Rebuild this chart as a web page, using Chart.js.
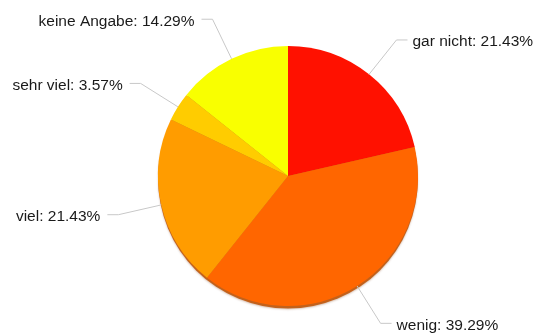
<!DOCTYPE html>
<html>
<head>
<meta charset="utf-8">
<script src="https://cdn.jsdelivr.net/npm/chart.js@4/dist/chart.umd.min.js"></script>
<style>
  html, body { margin: 0; padding: 0; background: #fff; }
  #wrap { width: 539px; height: 334px; }
</style>
</head>
<body>
<div id="wrap"><canvas id="myChart" width="539" height="334"></canvas></div>
<script>
var categories = ['gar nicht', 'wenig', 'viel', 'sehr viel', 'keine Angabe'];
var counts = [6, 11, 6, 1, 4];
var percentLabels = ['21.43%', '39.29%', '21.43%', '3.57%', '14.29%'];
var sliceColors = ['#ff1100', '#ff6600', '#ff9c00', '#ffcc00', '#f9ff00'];

// dark edge under the whole pie, drawn once before the slices
var shadowPlugin = {
    id: 'pieShadow',
    beforeDatasetsDraw: function(chart) {
        var arc = chart.getDatasetMeta(0).data[0];
        if (!arc) return;
        var ctx = chart.ctx;
        ctx.save();
        ctx.fillStyle = 'rgba(190, 80, 0, 0.85)';
        ctx.shadowColor = 'rgba(120, 50, 0, 0.35)';
        ctx.shadowBlur = 2;
        ctx.shadowOffsetY = 1;
        ctx.beginPath();
        ctx.arc(arc.x, arc.y + 2.5, arc.outerRadius, 0, Math.PI * 2);
        ctx.fill();
        ctx.restore();
    }
};

// labels with elbow leader lines
var leaderPlugin = {
    id: 'leaders',
    afterDraw: function(chart) {
        var ctx = chart.ctx;
        var arcs = chart.getDatasetMeta(0).data;
        ctx.save();
        ctx.font = '15.5px "Liberation Sans", Arial, sans-serif';
        ctx.textBaseline = 'middle';
        arcs.forEach(function(arc, i) {
            var mid = (arc.startAngle + arc.endAngle) / 2;
            var r = arc.outerRadius;
            var x0 = arc.x + Math.cos(mid) * r;
            var y0 = arc.y + Math.sin(mid) * r;
            var x1 = arc.x + Math.cos(mid) * (r + 44);
            var y1 = arc.y + Math.sin(mid) * (r + 44);
            var right = Math.cos(mid) >= 0;
            var x2 = right ? x1 + 11 : x1 - 11;
            ctx.strokeStyle = '#c8c8c8';
            ctx.lineWidth = 1;
            ctx.beginPath();
            ctx.moveTo(x0, y0);
            ctx.lineTo(x1, y1);
            ctx.lineTo(x2, y1);
            ctx.stroke();
            ctx.fillStyle = '#1a1a1a';
            ctx.textAlign = right ? 'left' : 'right';
            ctx.fillText(categories[i] + ': ' + percentLabels[i], right ? x2 + 5 : x2 - 7, y1 + 2);
        });
        ctx.restore();
    }
};

const ctx = document.getElementById('myChart').getContext('2d');
const myChart = new Chart(ctx, {
    type: 'pie',
    data: {
        labels: categories,
        datasets: [{
            data: counts,
            backgroundColor: sliceColors,
            borderWidth: 0
        }]
    },
    options: {
        responsive: false,
        animation: false,
        layout: {
            padding: { left: 158, right: 121, top: 46, bottom: 28 }
        },
        plugins: {
            legend: { display: false },
            tooltip: { enabled: false }
        }
    },
    plugins: [shadowPlugin, leaderPlugin]
});
</script>
</body>
</html>
